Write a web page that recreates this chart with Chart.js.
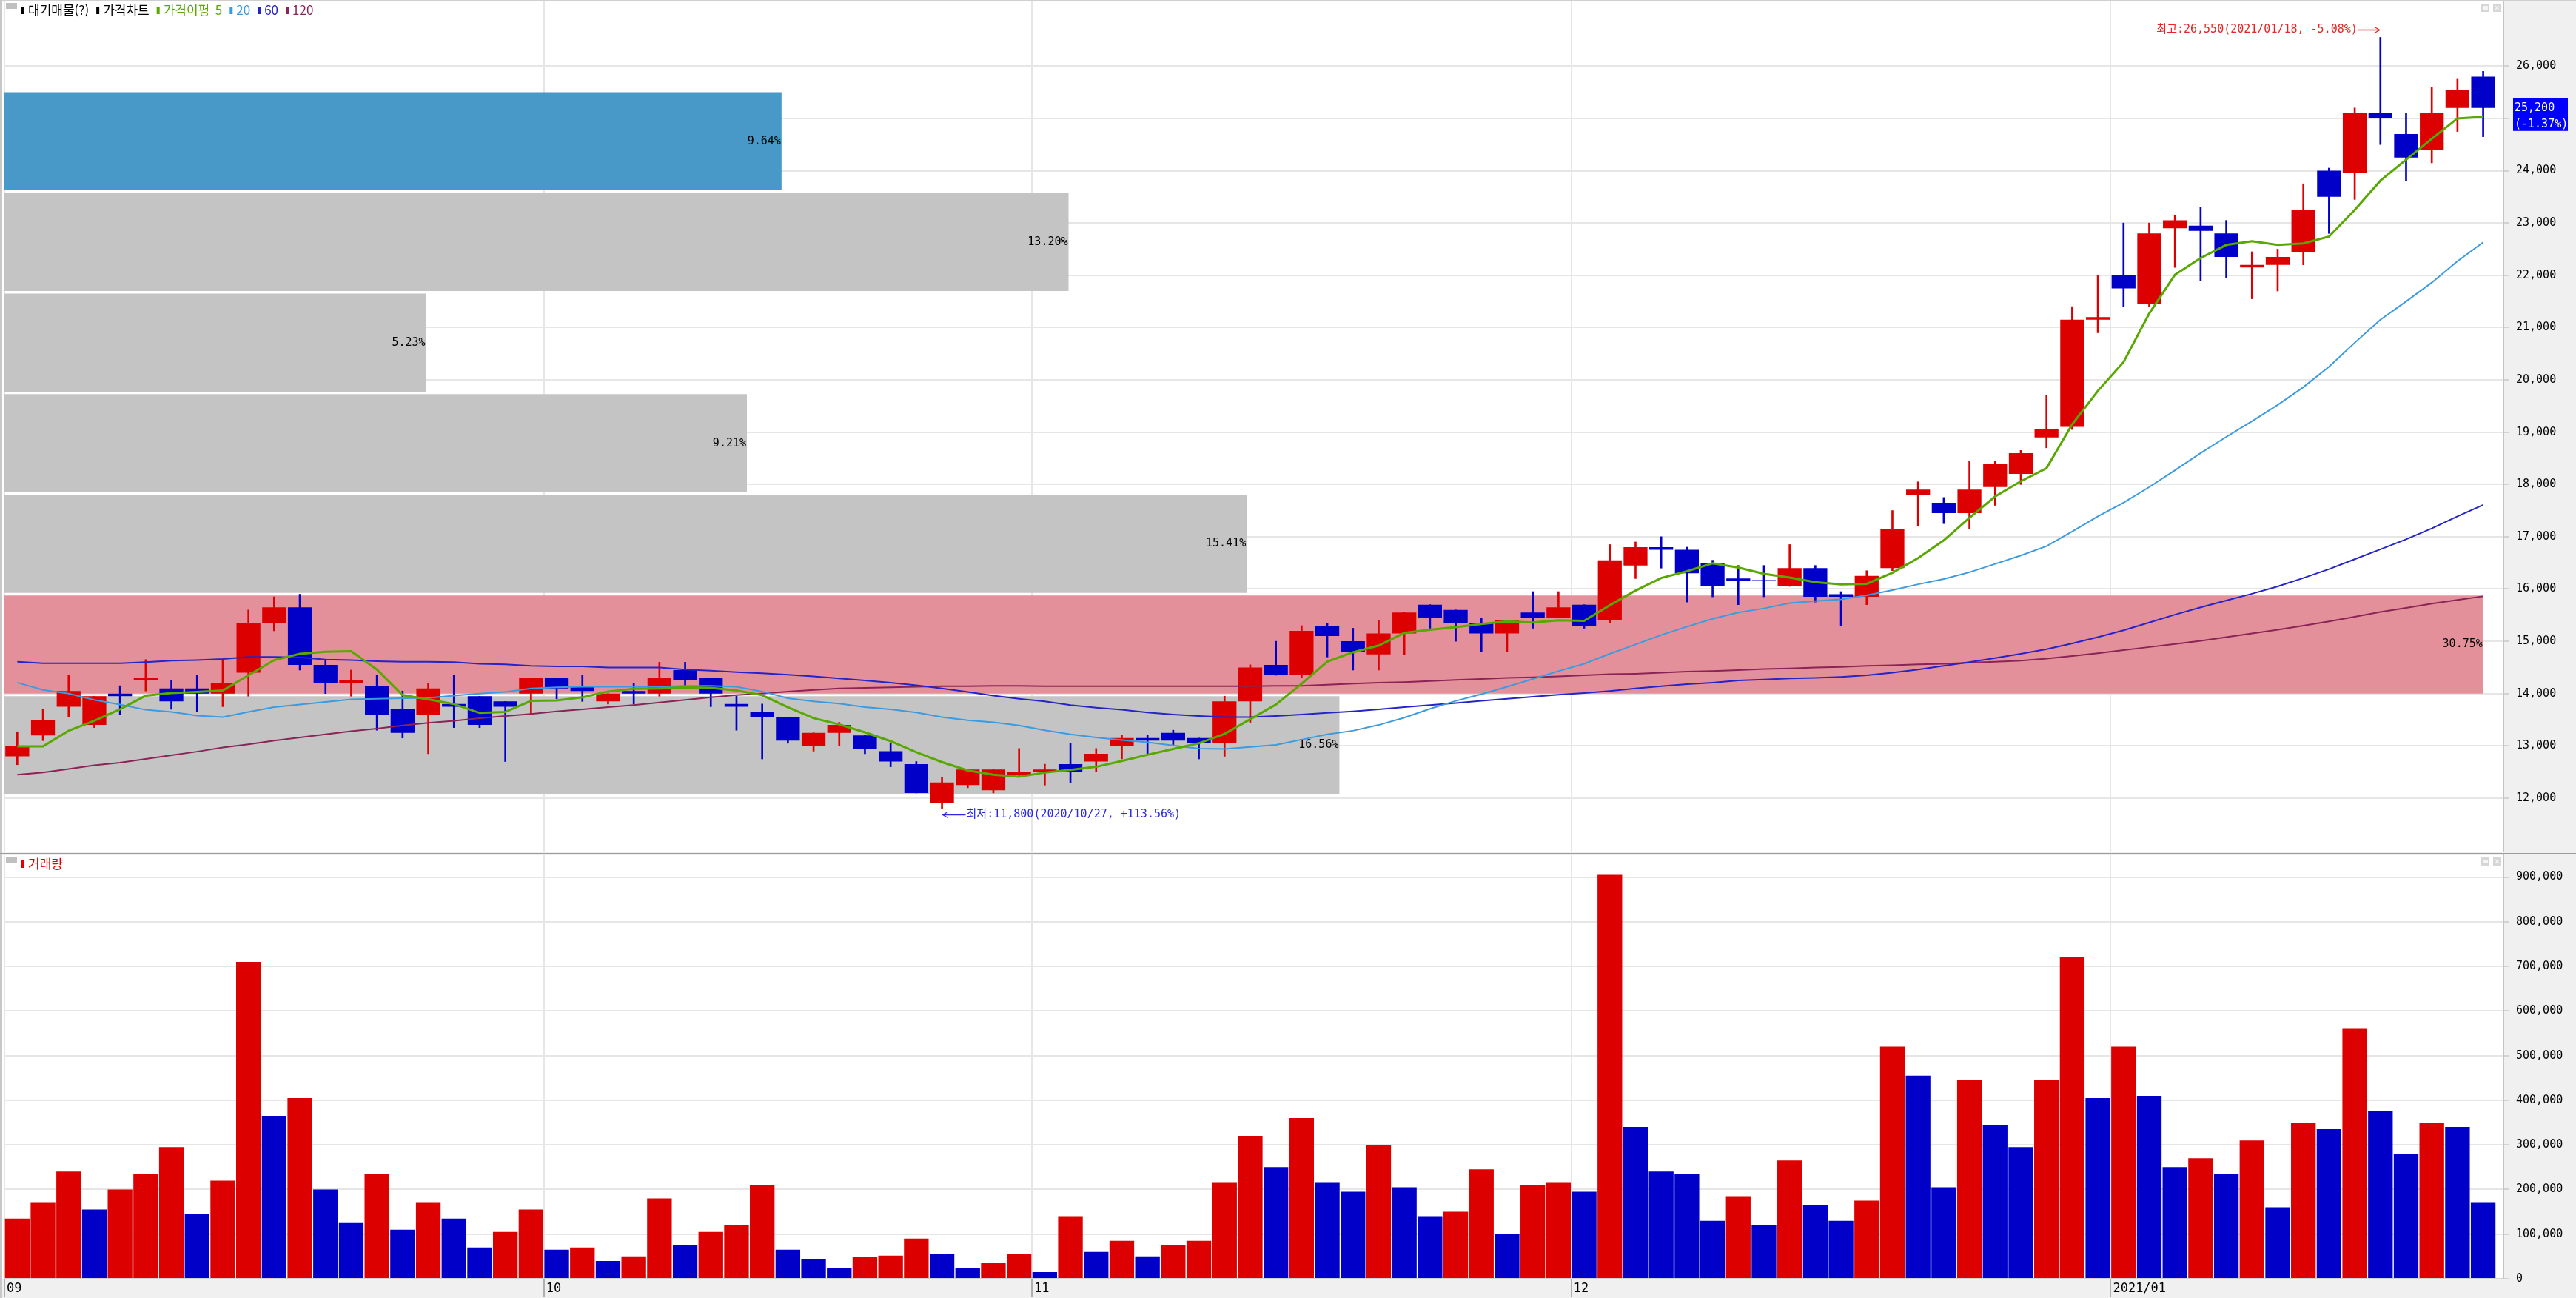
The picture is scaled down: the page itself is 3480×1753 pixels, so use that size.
<!DOCTYPE html>
<html lang="ko">
<head>
<meta charset="utf-8">
<title>가격차트</title>
<script src="https://cdn.jsdelivr.net/npm/chart.js@4.4.1/dist/chart.umd.min.js"></script>
<style>
  html, body { margin: 0; padding: 0; background: #f0f0f0; overflow: hidden; }
  #wrap { position: relative; width: 3480px; height: 1753px; overflow: hidden; background: #f0f0f0; }
  #wrap canvas { position: absolute; left: 0; }
  #priceCanvas { top: 0; }
  #volumeCanvas { top: 1154px; }
  .rule { position: absolute; left: 0; }
</style>
</head>
<body>
<div id="wrap">
  <canvas id="priceCanvas" width="3480" height="1152"></canvas>
  <canvas id="volumeCanvas" width="3480" height="599"></canvas>
  <div class="rule" style="top:0;width:3480px;height:2px;background:#cfcfcf"></div>
  <div class="rule" style="top:0;width:3px;height:1753px;background:#c8c8c8"></div>
  <div class="rule" style="top:1152px;width:3480px;height:2px;background:#9c9c9c"></div>
</div>
<script>
// daily candles, 2020/09/01 .. 2021/01/22 (97 trading days)
const monthLabels = ['09', '10', '11', '12', '2021/01'];
const monthStart = [0, 21, 40, 61, 82];

const openP = [
  12800, 13200, 13750, 13400, 14000, 14250, 14100, 14100, 14000, 14400,
  15350, 15650, 14550, 14200, 14150, 13700, 13600, 13800, 13950, 13850,
  14000, 14300, 14150, 13850, 14050, 14000, 14450, 14300, 13800, 13650,
  13550, 13000, 13250, 13200, 12900, 12650, 11900, 12250, 12150, 12450,
  12500, 12650, 12700, 13000, 13150, 13250, 13150, 13050, 13850, 14550,
  14350, 15300, 15000, 14750, 15150, 15700, 15600, 15350, 15150, 15550,
  15450, 15700, 15400, 16450, 16800, 16750, 16500, 16200, 16170, 16050,
  16400, 15900, 15850, 16400, 17800, 17650, 17450, 17950, 18200, 18900,
  19100, 21150, 22000, 21450, 22900, 22950, 22800, 22150, 22200, 22450,
  24000, 23950, 25100, 24700, 24400, 25200, 25800];
const highP = [
  13270, 13700, 14350, 13950, 14150, 14650, 14250, 14350, 14650, 15600,
  15850, 15900, 14650, 14450, 14350, 14050, 14200, 14350, 13950, 13850,
  14300, 14300, 14350, 14000, 14200, 14600, 14600, 14300, 13950, 13800,
  13550, 13250, 13450, 13200, 13050, 12700, 12400, 12550, 12550, 12950,
  12650, 13050, 12950, 13200, 13200, 13300, 13150, 13950, 14550, 15000,
  15300, 15350, 15250, 15400, 15550, 15700, 15600, 15450, 15400, 15950,
  15950, 15700, 16850, 16900, 17000, 16800, 16550, 16450, 16450, 16850,
  16450, 15950, 16350, 17500, 18050, 17750, 18450, 18450, 18650, 19700,
  21400, 22000, 23000, 23000, 23150, 23300, 23050, 22450, 22500, 23750,
  24050, 25200, 26550, 25100, 25600, 25750, 25900];
const lowP = [
  12640, 13100, 13550, 13350, 13600, 14050, 13700, 13650, 13750, 13950,
  15200, 14450, 14000, 13950, 13300, 13150, 12850, 13350, 13350, 12700,
  13600, 13900, 13850, 13800, 13800, 13950, 14100, 13750, 13300, 12750,
  13050, 12900, 13000, 12850, 12600, 12100, 11800, 12200, 12100, 12400,
  12250, 12300, 12500, 12750, 12850, 13000, 12750, 12800, 13450, 14350,
  14300, 14700, 14450, 14450, 14750, 15250, 15000, 14800, 14800, 15250,
  15450, 15250, 15350, 16200, 16400, 15750, 15850, 15700, 15850, 16050,
  15750, 15300, 15700, 16350, 17200, 17250, 17150, 17600, 18000, 18700,
  19050, 20900, 21400, 21400, 22150, 21900, 21950, 21550, 21700, 22200,
  22800, 23450, 24500, 23800, 24150, 24750, 24650];
const closeP = [
  13000, 13500, 14050, 13950, 13950, 14300, 13850, 14000, 14200, 15350,
  15650, 14550, 14200, 14250, 13600, 13250, 14100, 13750, 13400, 13750,
  14300, 14100, 14050, 14000, 14000, 14300, 14250, 14000, 13750, 13550,
  13100, 13250, 13400, 12950, 12700, 12100, 12300, 12550, 12550, 12500,
  12550, 12500, 12850, 13150, 13100, 13100, 13050, 13850, 14500, 14350,
  15200, 15100, 14800, 15150, 15550, 15450, 15350, 15150, 15400, 15450,
  15650, 15300, 16550, 16800, 16750, 16300, 16050, 16150, 16150, 16400,
  15850, 15850, 16250, 17150, 17900, 17450, 17900, 18400, 18600, 19050,
  21150, 21200, 21750, 22800, 23050, 22850, 22350, 22200, 22350, 23250,
  23500, 25100, 25000, 24250, 25100, 25550, 25200];
const volume = [
  135000, 170000, 240000, 155000, 200000, 235000, 295000, 145000, 220000, 710000,
  365000, 405000, 200000, 125000, 235000, 110000, 170000, 135000, 70000, 105000,
  155000, 65000, 70000, 40000, 50000, 180000, 75000, 105000, 120000, 210000,
  65000, 45000, 25000, 48000, 52000, 90000, 55000, 25000, 35000, 55000,
  15000, 140000, 60000, 85000, 50000, 75000, 85000, 215000, 320000, 250000,
  360000, 215000, 195000, 300000, 205000, 140000, 150000, 245000, 100000, 210000,
  215000, 195000, 905000, 340000, 240000, 235000, 130000, 185000, 120000, 265000,
  165000, 130000, 175000, 520000, 455000, 205000, 445000, 345000, 295000, 445000,
  720000, 405000, 520000, 410000, 250000, 270000, 235000, 310000, 160000, 350000,
  335000, 560000, 375000, 280000, 350000, 340000, 170000];

// moving averages as drawn (가격이평 5 / 20 / 60 / 120)
const ma5 = [
  12990, 12990, 13290, 13480, 13700, 13960, 14010, 14030, 14060, 14350,
  14640, 14760, 14800, 14810, 14460, 13970, 13890, 13800, 13630, 13650,
  13860, 13870, 13930, 14040, 14090, 14100, 14120, 14110, 14060, 13970,
  13740, 13530, 13410, 13260, 13090, 12880, 12690, 12530, 12450, 12410,
  12490, 12540, 12600, 12710, 12830, 12940, 13050, 13230, 13510, 13790,
  14190, 14610, 14790, 14920, 15160, 15220, 15270, 15330, 15380, 15360,
  15400, 15390, 15690, 15970, 16210, 16340, 16490, 16410, 16290, 16220,
  16130, 16090, 16100, 16310, 16590, 16930, 17360, 17770, 18060, 18310,
  19150, 19790, 20340, 21270, 22010, 22330, 22580, 22650, 22580, 22610,
  22740, 23250, 23810, 24210, 24610, 25000, 25030];
const ma20 = [
  14210, 14070, 14000, 13880, 13790, 13690, 13650, 13580, 13550, 13650,
  13740, 13790, 13840, 13890, 13900, 13910, 13920, 13960, 14000, 14030,
  14100, 14120, 14130, 14130, 14130, 14130, 14150, 14150, 14130, 14040,
  13910, 13850, 13810, 13740, 13700, 13640, 13550, 13490, 13450, 13390,
  13300, 13220, 13160, 13110, 13070, 13010, 12950, 12940, 12980, 13020,
  13120, 13220, 13290, 13400, 13540, 13710, 13860, 13990, 14130, 14280,
  14430, 14570, 14760, 14940, 15120, 15280, 15430, 15550, 15630, 15730,
  15770, 15800, 15880, 15980, 16090, 16190, 16320, 16480, 16640, 16820,
  17100, 17390, 17650, 17950, 18270, 18600, 18910, 19210, 19520, 19860,
  20250, 20710, 21150, 21500, 21860, 22270, 22630];
const ma60 = [
  14610, 14580, 14580, 14580, 14580, 14600, 14630, 14640, 14660, 14700,
  14700, 14690, 14650, 14640, 14620, 14610, 14610, 14600, 14570, 14560,
  14530, 14520, 14520, 14500, 14500, 14500, 14460, 14440, 14410, 14390,
  14360, 14330, 14290, 14250, 14210, 14160, 14100, 14030, 13960, 13900,
  13850, 13780, 13730, 13690, 13640, 13600, 13570, 13550, 13550, 13570,
  13600, 13630, 13660, 13700, 13740, 13780, 13820, 13860, 13900, 13940,
  13980, 14010, 14050, 14100, 14140, 14180, 14210, 14250, 14270, 14290,
  14300, 14320, 14350, 14400, 14460, 14530, 14600, 14680, 14760, 14850,
  14960, 15080, 15210, 15360, 15510, 15650, 15780, 15910, 16050, 16210,
  16380, 16570, 16760, 16950, 17160, 17390, 17610];
const ma120 = [
  12450, 12490, 12560, 12630, 12680, 12750, 12820, 12890, 12970, 13030,
  13100, 13160, 13220, 13280, 13330, 13390, 13440, 13480, 13530, 13570,
  13610, 13660, 13700, 13740, 13780, 13830, 13880, 13930, 13970, 14000,
  14040, 14070, 14100, 14110, 14120, 14130, 14140, 14140, 14150, 14150,
  14140, 14140, 14140, 14140, 14140, 14140, 14140, 14140, 14140, 14150,
  14150, 14170, 14190, 14210, 14220, 14240, 14260, 14280, 14300, 14310,
  14330, 14350, 14370, 14380, 14400, 14420, 14430, 14450, 14470, 14480,
  14500, 14510, 14530, 14540, 14560, 14570, 14590, 14610, 14630, 14670,
  14720, 14770, 14830, 14890, 14950, 15010, 15080, 15150, 15220, 15300,
  15380, 15470, 15560, 15640, 15720, 15790, 15860];

const priceTicks = [12000, 13000, 14000, 15000, 16000, 17000, 18000, 19000,
  20000, 21000, 22000, 23000, 24000, 25000, 26000];
const volumeTicks = [0, 100000, 200000, 300000, 400000, 500000, 600000,
  700000, 800000, 900000];

// 대기매물: price band edges (bottom to top) and share of volume in each band
const profileEdges = [12050, 13975, 15900, 17825, 19750, 21675, 23600, 25525];
const profilePct = [16.56, 30.75, 15.41, 9.21, 5.23, 13.20, 9.64];

const highDate = '2021/01/18';
const lowDate = '2020/10/27';

// ---- look ----
const PRICE_MIN = 10980, PRICE_MAX = 27236;
const VOL_MAX = 949000;
const X_MIN = -0.5, X_MAX = 96.79;
const AXIS_W = 98;
const RED = '#dd0000', BLUE = '#0000c8';
const MA_COLORS = ['#58a800', '#3a9be0', '#2424c8', '#8a2456'];
const GRID = '#e6e6e6';
const MONO = '"DejaVu Sans Mono", "Noto Sans CJK KR", monospace';
const KR = '"Noto Sans CJK KR", "DejaVu Sans", sans-serif';

const idx = closeP.map((_, i) => i);
const xy = arr => arr.map((v, i) => ({ x: i, y: v }));
const fmt = v => v.toLocaleString('en-US');
const signed = v => (v >= 0 ? '+' : '') + v.toFixed(2) + '%';

const last = closeP[closeP.length - 1];
const prev = closeP[closeP.length - 2];
const candleColors = idx.map(i => closeP[i] >= openP[i] ? RED : BLUE);
const volColors = volume.map((v, i) => (i === 0 || v >= volume[i - 1]) ? RED : BLUE);
const maxPct = Math.max(...profilePct);
const profileColors = profilePct.map((p, i) => {
  if (last >= profileEdges[i] && last < profileEdges[i + 1]) return '#4898c8';
  return p === maxPct ? '#e4909a' : '#c4c4c4';
});

function monthTicks(scale) {
  scale.ticks = monthStart.map(k => ({ value: k - 0.5 }));
}

// keep chart.js from shrinking the plot for half-label overhangs
function fixWidth(s) {
  s.width = AXIS_W;
  s.paddingTop = 0;
  s.paddingBottom = 0;
}
function fixHeight(h) {
  return s => {
    s.height = h;
    s.paddingLeft = 0;
    s.paddingRight = 0;
  };
}

const paper = {
  id: 'paper',
  beforeDraw(chart) {
    const { ctx, chartArea: a } = chart;
    ctx.save();
    ctx.fillStyle = '#ffffff';
    ctx.fillRect(3, a.top, a.right - 3, a.bottom - a.top);
    ctx.restore();
  }
};

function panelHeader(ctx, a, items) {
  ctx.save();
  ctx.fillStyle = '#c0c0c0';
  ctx.fillRect(8, a.top + 2, 15, 8);
  ctx.font = '17px ' + KR;
  ctx.textBaseline = 'middle';
  ctx.textAlign = 'left';
  const ym = a.top + 12;
  let x = 29;
  items.forEach(it => {
    ctx.fillStyle = it.color;
    ctx.fillRect(x, ym - 5, 4, 10);
    ctx.fillText(it.text, x + 9, ym);
    x += 9 + ctx.measureText(it.text).width + 10;
  });
  // window buttons
  const bx = a.right - 30, by = a.top + 3;
  ctx.fillStyle = '#d6d6d6';
  ctx.fillRect(bx, by, 11, 11);
  ctx.fillRect(bx + 16, by, 11, 11);
  ctx.fillStyle = '#f4f4f4';
  ctx.fillRect(bx + 2, by + 3, 7, 5);
  ctx.strokeStyle = '#f4f4f4';
  ctx.lineWidth = 1.5;
  ctx.beginPath();
  ctx.moveTo(bx + 19, by + 3); ctx.lineTo(bx + 24, by + 8);
  ctx.moveTo(bx + 24, by + 3); ctx.lineTo(bx + 19, by + 8);
  ctx.stroke();
  ctx.restore();
}

function arrow(ctx, from, to, y) {
  const d = Math.sign(to - from);
  ctx.lineWidth = 1.3;
  ctx.beginPath();
  ctx.moveTo(from, y); ctx.lineTo(to, y);
  ctx.moveTo(to - d * 7, y - 4); ctx.lineTo(to, y); ctx.lineTo(to - d * 7, y + 4);
  ctx.stroke();
}

const priceOverlay = {
  id: 'priceOverlay',
  afterDatasetDraw(chart, args) {
    if (chart.data.datasets[args.index].label !== '대기매물') return;
    const ctx = chart.ctx;
    ctx.save();
    ctx.font = '15px ' + MONO;
    ctx.fillStyle = '#000';
    ctx.textAlign = 'right';
    ctx.textBaseline = 'middle';
    args.meta.data.forEach((bar, i) => ctx.fillText(profilePct[i].toFixed(2) + '%', bar.x - 1, bar.y));
    ctx.restore();
  },
  afterDraw(chart) {
    const { ctx, chartArea: a } = chart;
    const xs = chart.scales.x, ys = chart.scales.y;
    panelHeader(ctx, a, [
      { text: '대기매물(?)', color: '#000' },
      { text: '가격차트', color: '#000' },
      { text: '가격이평  5', color: MA_COLORS[0] },
      { text: '20', color: MA_COLORS[1] },
      { text: '60', color: MA_COLORS[2] },
      { text: '120', color: MA_COLORS[3] }
    ]);

    ctx.save();
    ctx.font = '15px ' + MONO;
    ctx.textBaseline = 'middle';

    // highest point
    const hiVal = Math.max(...highP), hiIdx = highP.indexOf(hiVal);
    let x = xs.getPixelForValue(hiIdx), y = Math.round(ys.getPixelForValue(hiVal) - 10) + 0.5;
    ctx.fillStyle = ctx.strokeStyle = '#e82525';
    ctx.textAlign = 'right';
    ctx.fillText('최고:' + fmt(hiVal) + '(' + highDate + ', ' + signed((last / hiVal - 1) * 100) + ')', x - 31, y);
    arrow(ctx, x - 31, x - 1, y);

    // lowest point
    const loVal = Math.min(...lowP), loIdx = lowP.indexOf(loVal);
    x = xs.getPixelForValue(loIdx); y = Math.round(ys.getPixelForValue(loVal) + 8) + 0.5;
    ctx.fillStyle = ctx.strokeStyle = '#2a2ae0';
    ctx.textAlign = 'left';
    arrow(ctx, x + 32, x + 1, y);
    ctx.fillText('최저:' + fmt(loVal) + '(' + lowDate + ', ' + signed((last / loVal - 1) * 100) + ')', x + 33, y);

    // last price tag on the axis
    const yc = ys.getPixelForValue(last);
    const bx = a.right + 13;
    ctx.fillStyle = '#0000ff';
    ctx.fillRect(bx, yc - 13, 74, 44);
    ctx.fillStyle = '#ffffff';
    ctx.fillText(fmt(last), bx + 2, yc);
    ctx.fillText('(' + signed((last / prev - 1) * 100) + ')', bx + 2, yc + 22);
    ctx.restore();
  }
};

const volumeOverlay = {
  id: 'volumeOverlay',
  afterDraw(chart) {
    panelHeader(chart.ctx, chart.chartArea, [{ text: '거래량', color: '#e00000' }]);
  }
};

const yAxisBase = {
  type: 'linear',
  position: 'right',
  offset: false,
  afterFit: fixWidth,
  ticks: { color: '#000', font: { family: MONO, size: 15 }, padding: 9, callback: v => fmt(v) },
  grid: { color: GRID, lineWidth: 2, tickLength: 8, tickColor: '#b4b4b4', tickWidth: 1, offset: false },
  border: { color: '#c4c4c4', width: 2 }
};

new Chart(document.getElementById('priceCanvas'), {
  type: 'bar',
  data: {
    datasets: [
      { type: 'line', label: '이평5', data: xy(ma5), borderColor: MA_COLORS[0], borderWidth: 3, pointRadius: 0, xAxisID: 'x', yAxisID: 'y', order: 0 },
      { type: 'line', label: '이평20', data: xy(ma20), borderColor: MA_COLORS[1], borderWidth: 2, pointRadius: 0, xAxisID: 'x', yAxisID: 'y', order: 1 },
      { type: 'line', label: '이평60', data: xy(ma60), borderColor: MA_COLORS[2], borderWidth: 2, pointRadius: 0, xAxisID: 'x', yAxisID: 'y', order: 2 },
      { type: 'line', label: '이평120', data: xy(ma120), borderColor: MA_COLORS[3], borderWidth: 2, pointRadius: 0, xAxisID: 'x', yAxisID: 'y', order: 3 },
      { type: 'bar', label: '몸통', data: idx.map(i => ({ x: i, y: [openP[i], closeP[i]] })),
        backgroundColor: candleColors, grouped: false, barPercentage: 0.93, categoryPercentage: 1,
        xAxisID: 'x', yAxisID: 'y', order: 4 },
      { type: 'bar', label: '꼬리', data: idx.map(i => ({ x: i, y: [lowP[i], highP[i]] })),
        backgroundColor: candleColors, grouped: false, barThickness: 2,
        xAxisID: 'x', yAxisID: 'y', order: 5 },
      { type: 'bar', label: '대기매물', indexAxis: 'y',
        data: profilePct.map((p, i) => ({ x: p, y: (profileEdges[i] + profileEdges[i + 1]) / 2 })),
        backgroundColor: profileColors, grouped: false, barPercentage: 0.975, categoryPercentage: 1,
        xAxisID: 'xp', yAxisID: 'yp', order: 6 }
    ]
  },
  options: {
    responsive: false,
    animation: false,
    events: [],
    layout: { padding: { left: 6, top: 2, right: 0, bottom: 2 } },
    plugins: { legend: { display: false }, tooltip: { enabled: false } },
    scales: {
      x: {
        type: 'linear', position: 'bottom', min: X_MIN, max: X_MAX, offset: false,
        afterBuildTicks: monthTicks,
        afterFit: fixHeight(0),
        ticks: { display: false },
        grid: { color: GRID, lineWidth: 2, drawTicks: false, offset: false },
        border: { display: false }
      },
      y: Object.assign({}, yAxisBase, {
        min: PRICE_MIN, max: PRICE_MAX,
        afterBuildTicks: s => { s.ticks = priceTicks.map(v => ({ value: v })); }
      }),
      xp: { type: 'linear', axis: 'x', position: 'bottom', display: false, min: 0, max: 31, offset: false },
      yp: {
        type: 'linear', axis: 'y', position: 'left', display: false, min: PRICE_MIN, max: PRICE_MAX, offset: false,
        afterBuildTicks: s => { s.ticks = profileEdges.map(v => ({ value: v })); }
      }
    }
  },
  plugins: [paper, priceOverlay]
});

new Chart(document.getElementById('volumeCanvas'), {
  type: 'bar',
  data: {
    datasets: [{
      label: '거래량', data: xy(volume), backgroundColor: volColors,
      grouped: false, barPercentage: 0.96, categoryPercentage: 1, xAxisID: 'x', yAxisID: 'y'
    }]
  },
  options: {
    responsive: false,
    animation: false,
    events: [],
    layout: { padding: { left: 6, top: 1, right: 0, bottom: 0 } },
    plugins: { legend: { display: false }, tooltip: { enabled: false } },
    scales: {
      x: {
        type: 'linear', position: 'bottom', min: X_MIN, max: X_MAX, offset: false,
        afterBuildTicks: monthTicks,
        afterFit: fixHeight(26),
        ticks: {
          autoSkip: false, maxRotation: 0, align: 'start', labelOffset: 3, padding: -21,
          color: '#000', font: { family: MONO, size: 17 },
          callback: v => monthLabels[monthStart.indexOf(Math.round(v + 0.5))]
        },
        grid: { color: GRID, lineWidth: 2, tickLength: 24, tickColor: '#6e6e6e', tickWidth: 1, offset: false },
        border: { color: '#d2d2d2', width: 2 }
      },
      y: Object.assign({}, yAxisBase, {
        min: 0, max: VOL_MAX,
        afterBuildTicks: s => { s.ticks = volumeTicks.map(v => ({ value: v })); }
      })
    }
  },
  plugins: [paper, volumeOverlay]
});
</script>
</body>
</html>
